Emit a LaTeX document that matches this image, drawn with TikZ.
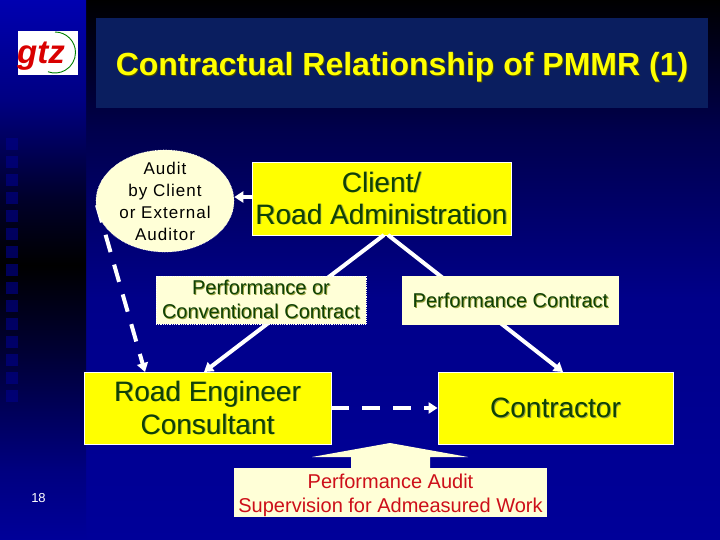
\documentclass[tikz,border=0pt]{standalone}
\usepackage{fontspec}
\setmainfont{Liberation Sans}
\usetikzlibrary{shapes.geometric,arrows.meta}
\definecolor{creamc}{RGB}{255,255,215}
\definecolor{yelc}{RGB}{255,255,0}
\definecolor{greenc}{RGB}{15,65,5}
\definecolor{shadc}{RGB}{150,160,60}
\definecolor{titlebg}{RGB}{10,30,95}
\definecolor{redc}{RGB}{205,15,25}
\pgfdeclareverticalshading{mainbg}{100bp}{rgb(0bp)=(0,0,.6); rgb(25bp)=(0,0,.6); rgb(47.22bp)=(0,0,.54); rgb(62.96bp)=(0,0,.3); rgb(75bp)=(0,0,0); rgb(100bp)=(0,0,0)}
\pgfdeclareverticalshading{leftbg}{100bp}{rgb(0bp)=(0,0,.6); rgb(25bp)=(0,0,.6); rgb(31.48bp)=(0,0,.5); rgb(42.59bp)=(0,0,.2); rgb(50.46bp)=(0,0,0); rgb(56.48bp)=(0,0,.16); rgb(65.74bp)=(0,0,.51); rgb(75bp)=(0,0,.69); rgb(100bp)=(0,0,.69)}
\newcommand{\shtxt}[2][shadc]{\leavevmode\rlap{\kern.9pt\raisebox{-.9pt}{\color{#1}#2}}#2}
\tikzset{
  x=1pt,y=-1pt,
  boxy/.style={draw=white,line width=.8pt,fill=yelc,text=greenc,align=center,inner sep=0pt,font=\fontsize{28}{33}\selectfont},
  boxc/.style={fill=creamc,text=greenc,align=center,inner sep=0pt,font=\fontsize{20}{24}\selectfont},
  conn/.style={draw=white,line width=4pt,-{Triangle[length=9pt,width=11pt]}},
  dashc/.style={conn,dash pattern=on 18pt off 13pt},
}
\begin{document}
\begin{tikzpicture}
\useasboundingbox (0,0) rectangle (720,540);
\shade[shading=mainbg] (86,0) rectangle (720,540);
\shade[shading=leftbg] (0,0) rectangle (86,540);
\foreach \k in {0,...,14}{
  \fill[fill={rgb,255:red,0;green,0;blue,135},opacity=.65] (6,138+18*\k) rectangle ++(12,12);
}
% title
\node[fill=titlebg,minimum width=612pt,minimum height=90pt,inner sep=0pt] (titlebox) at (402,63) {};
\node[text=yelc,font=\fontsize{32}{34}\selectfont\bfseries,inner sep=0pt] (title) at (402,68) {\shtxt[black!70!yelc]{Contractual Relationship of PMMR (1)}};
% logo
\node[fill=white,minimum width=60pt,minimum height=44pt,inner sep=0pt] (logo) at (48,53) {};
\draw[green!50!black,line width=.9pt] (55,32) arc[start angle=90,end angle=-110,radius=20.5pt];
\node[text=red!85!black,font=\fontsize{33}{34}\selectfont\bfseries\itshape,inner sep=0pt] (logotext) at (41,56) {gtz};
% connector endpoints
\coordinate (c1) at (384,235);
\coordinate (c2) at (388,235);
\coordinate (roadA) at (145,372);
\coordinate (roadB) at (204,372);
\coordinate (conA) at (563,372);
\coordinate (audL) at (97,205);
% boxes
\node[boxy,minimum width=259pt,minimum height=73pt] (client) at (381.5,198.5) {\shtxt{Client/}\\[-1pt]\shtxt{Road Administration}};
\node[boxy,minimum width=247pt,minimum height=72pt] (road) at (207.5,408) {\shtxt{Road Engineer}\\\shtxt{Consultant}};
\node[boxy,minimum width=235pt,minimum height=72pt] (con) at (555.5,408) {\shtxt{Contractor}};
% connectors
\draw[dashc] (audL) -- (roadA);
\node[fill=creamc,draw=white,densely dotted,line width=.6pt,ellipse,inner sep=0pt,minimum width=138pt,minimum height=102pt] (aud) at (165,201) {};
\draw[conn] (client.west|-0,197) -- (aud.east|-0,197);
\draw[conn] (c1) -- (roadB);
\draw[conn] (c2) -- (conA);
\draw[dashc] (road.east) -- (con.west);
\node[text=black,align=center,inner sep=0pt,font=\fontsize{17}{22}\selectfont\addfontfeature{LetterSpace=6}] (audt) at (165,201) {Audit\\by Client\\or External\\Auditor};
\node[boxc,draw=white,densely dotted,line width=.8pt,minimum width=210pt,minimum height=48pt] (pc) at (261,300) {\shtxt{Performance or}\\\shtxt{Conventional Contract}};
\node[boxc,minimum width=217pt,minimum height=49pt] (pf) at (510.5,300.5) {\shtxt{Performance Contract}};
\node[boxc,minimum width=313pt,minimum height=49pt,text=redc,text depth=0pt] (pa) at (390.5,492.5) {\raisebox{-1.5pt}{Performance Audit}\\\raisebox{-1.5pt}{Supervision for Admeasured Work}};
\fill[creamc] (351,469) -- (351,457) -- (312,457) -- (390,443) -- (468,457) -- (430,457) -- (430,469) -- cycle;
\node[text=white,inner sep=0pt,font=\fontsize{13}{14}\selectfont] (num) at (38.5,498) {18};
\end{tikzpicture}
\end{document}
